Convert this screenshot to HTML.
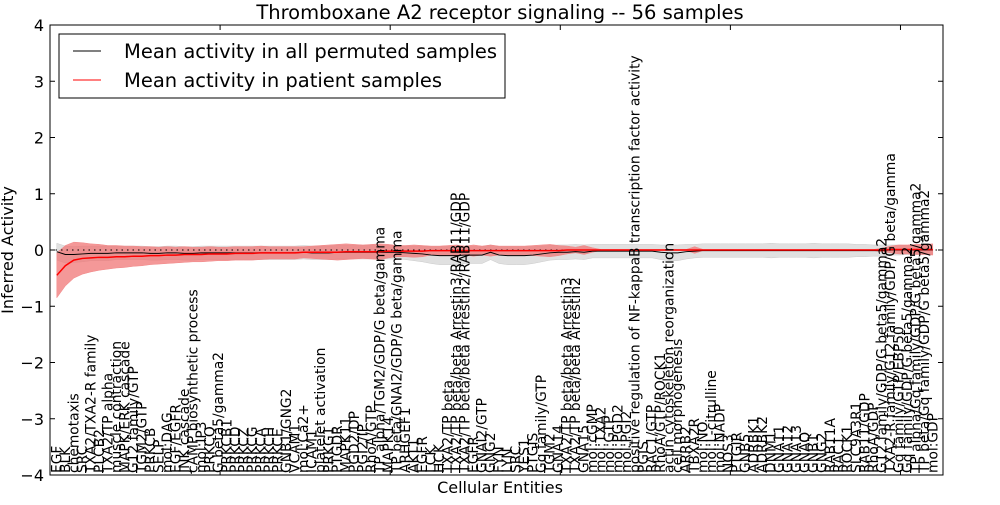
<!DOCTYPE html>
<html><head><meta charset="utf-8"><style>
body{margin:0;background:#fff;}
svg text{font-family:"DejaVu Sans","Liberation Sans",sans-serif;}
</style></head><body>
<svg id="chart" width="1000" height="500" xmlns="http://www.w3.org/2000/svg">
<rect width="1000" height="500" fill="#fff"/>
<text x="500" y="19" font-size="19.5" text-anchor="middle">Thromboxane A2 receptor signaling -- 56 samples</text>
<text transform="translate(13,250) rotate(-90)" font-size="16" text-anchor="middle">Inferred Activity</text>
<text x="500" y="493" font-size="16" text-anchor="middle">Cellular Entities</text>
<g id="plot"></g>
</svg>
<script>
const categories=["EGF","BLK","chemotaxis","SRC","TXA2/TXA2-R family","PLCB2","TXA2/TP alpha","muscle contraction","MAPK/ERK cascade","G12 family/GTP","TGM2/GTP","PRKCB","SELP","mol:DAG","EGF/EGFR","JNK cascade","cAMP biosynthetic process","mol:IP3","PRKCQ","G beta5/gamma2","PRKCB1","PRKCD","PRKCZ","PRKCG","PRKCA","PRKCH","PRKCE","GNB1/GNG2","VCAM1","mol:Ca2+","ICAM1","platelet activation","PRKG1","PTGDR","MAPK11","PGD2/DP","PGI2/IP","RhoA/GTP","TP alpha/TGM2/GDP/G beta/gamma","MAPK14","TP beta/GNAI2/GDP/G beta/gamma","ARHGEF1","AKT1","EGFR","LCK","HCK","TXA2/TP beta","TXA2/TP beta/beta Arrestin3/RAB11/GDP","TXA2/TP beta/beta Arrestin2/RAB11/GDP","EGFR","GNAI2/GTP","GNG2","FYN","LYN","SRC","YES1","PTGIS","Gq family/GTP","TGM2","GNA14","TXA2/TP beta/beta Arrestin3","TXA2/TP beta/beta Arrestin2","GNA15","mol:cGMP","mol:TXA2","mol:GTP","mol:PGD2","mol:PGI2","positive regulation of NF-kappaB transcription factor activity","PGIS","RAC1/GTP","RhoA/GTP/ROCK1","actin cytoskeleton reorganization","cell morphogenesis","ARRB2","TBXA2R","mol:NO","mol:L-citrulline","mol:NADP","NOS3","PTGIR","GNB5","ADRBK1","ADRBK2","DNM1","GNA11","GNA12","GNA13","GNAQ","GNB1","GNG2","RAB11A","RAC1","ROCK1","SLC9A3R1","RAB11/GDP","RhoA/GDP","G12 family/GDP/G beta5/gamma2","TXA2-R family/G12 family/GDP/G beta/gamma","Gq family/GTP/EBP50","Gq family/GDP/G beta5/gamma2","TP alpha/Gq family/GDP/G beta5/gamma2","TP beta/Gq family/GDP/G beta5/gamma2","mol:GDP"];
const patientMean=[-0.45,-0.28,-0.18,-0.15,-0.14,-0.13,-0.13,-0.12,-0.12,-0.11,-0.11,-0.1,-0.1,-0.09,-0.09,-0.08,-0.08,-0.08,-0.07,-0.07,-0.07,-0.06,-0.06,-0.06,-0.05,-0.05,-0.05,-0.05,-0.05,-0.04,-0.04,-0.04,-0.04,-0.04,-0.03,-0.03,-0.03,-0.03,-0.03,-0.02,-0.02,-0.02,-0.02,-0.02,-0.01,-0.01,-0.01,-0.01,-0.01,-0.01,-0.01,-0.01,-0.01,-0.01,-0.01,-0.01,-0.01,-0.01,-0.01,-0.01,0,0,0,0,0,0,0,0,0,0,0,0,0,0,0,0,0,0,0,0,0,0,0,0,0,0,0,0,0,0,0,0,0,0,0,0,0,0,0.01,0.01,0.01,0.01,0.01,0.01];
const patientSd=[0.4,0.36,0.32,0.28,0.25,0.23,0.21,0.2,0.19,0.18,0.17,0.16,0.15,0.15,0.14,0.14,0.13,0.13,0.13,0.12,0.12,0.12,0.12,0.12,0.12,0.11,0.11,0.11,0.11,0.1,0.11,0.12,0.13,0.14,0.14,0.13,0.12,0.13,0.14,0.12,0.1,0.1,0.11,0.1,0.08,0.08,0.09,0.1,0.08,0.1,0.08,0.1,0.08,0.08,0.08,0.08,0.09,0.1,0.11,0.09,0.07,0.05,0.08,0.04,0.01,0.01,0.01,0.01,0.01,0.01,0.01,0.01,0.01,0.01,0.01,0.06,0.01,0.01,0.01,0.01,0.01,0.01,0.01,0.01,0.01,0.01,0.01,0.01,0.01,0.01,0.01,0.01,0.01,0.01,0.01,0.01,0.01,0.03,0.06,0.08,0.08,0.09,0.09,0.1];
const nullMean=[-0.03,-0.08,-0.08,-0.07,-0.06,-0.06,-0.06,-0.05,-0.05,-0.05,-0.05,-0.06,-0.06,-0.05,-0.05,-0.06,-0.06,-0.05,-0.05,-0.05,-0.05,-0.05,-0.05,-0.05,-0.05,-0.05,-0.05,-0.05,-0.05,-0.04,-0.05,-0.05,-0.05,-0.04,-0.04,-0.04,-0.04,-0.04,-0.04,-0.04,-0.04,-0.05,-0.06,-0.07,-0.09,-0.1,-0.1,-0.1,-0.09,-0.09,-0.09,-0.04,-0.09,-0.1,-0.1,-0.1,-0.09,-0.07,-0.05,-0.04,-0.04,-0.03,-0.04,-0.02,-0.02,-0.02,-0.02,-0.02,-0.02,-0.02,-0.02,-0.04,-0.05,-0.05,-0.03,-0.02,-0.01,-0.01,-0.01,-0.01,-0.01,-0.01,-0.01,-0.01,-0.01,-0.01,-0.01,-0.01,-0.01,-0.01,-0.01,-0.01,-0.01,-0.01,-0.01,-0.01,-0.01,-0.01,0,0,0,0,0,0];
const nullSd=[0.15,0.15,0.14,0.14,0.13,0.13,0.13,0.12,0.12,0.12,0.12,0.12,0.12,0.12,0.12,0.12,0.12,0.12,0.12,0.12,0.12,0.12,0.12,0.12,0.12,0.12,0.12,0.12,0.12,0.12,0.12,0.12,0.12,0.12,0.12,0.12,0.12,0.12,0.12,0.12,0.12,0.12,0.13,0.14,0.15,0.16,0.16,0.16,0.15,0.15,0.15,0.13,0.15,0.16,0.16,0.16,0.15,0.14,0.13,0.13,0.13,0.13,0.13,0.12,0.12,0.12,0.12,0.12,0.12,0.12,0.12,0.13,0.14,0.14,0.13,0.12,0.12,0.12,0.12,0.12,0.12,0.12,0.12,0.12,0.13,0.12,0.12,0.12,0.12,0.13,0.12,0.12,0.12,0.12,0.11,0.11,0.1,0.1,0.09,0.09,0.08,0.08,0.08,0.08];
const yTicks=[-4,-3,-2,-1,0,1,2,3,4];
const xTicks=[0,20,40,60,80,100];

const L=50,R=943,T=25,B=475,XMAX=105;
const xs=i=>L+(i+0.8)*(R-L)/XMAX;
const xd=v=>L+v*(R-L)/XMAX;
const ys=v=>B-(v+4)*(B-T)/8;
const g=document.getElementById('plot');
const NS='http://www.w3.org/2000/svg';
function mk(t,a){const e=document.createElementNS(NS,t);for(const k in a)e.setAttribute(k,a[k]);g.appendChild(e);return e;}
function band(m,s){let up=m.map((v,i)=>xs(i)+','+ys(v+s[i]));let dn=m.map((v,i)=>xs(i)+','+ys(v-s[i])).reverse();return up.concat(dn).join(' ');}
function line(m){return m.map((v,i)=>xs(i)+','+ys(v)).join(' ');}

let e=mk('polygon',{points:band(nullMean,nullSd),fill:'#d6d6d6','fill-opacity':'0.75',stroke:'#cccccc','stroke-width':'0.5'});


e=mk('polygon',{points:band(patientMean,patientSd),fill:'#f07070','fill-opacity':'0.72',stroke:'#f28888','stroke-width':'0.5'});


e=mk('line',{x1:L,x2:R,y1:ys(0),y2:ys(0),stroke:'#000','stroke-dasharray':'1.5,4','stroke-width':'1'});


e=mk('polyline',{points:line(nullMean),fill:'none',stroke:'#000','stroke-width':'1'});


e=mk('polyline',{points:line(patientMean),fill:'none',stroke:'#f00','stroke-width':'1.5'});



e=mk('rect',{x:L,y:T,width:R-L,height:B-T,fill:'none',stroke:'#000','stroke-width':'1'});



yTicks.forEach(v=>{
  let t=mk('line',{x1:L,x2:L+5,y1:ys(v),y2:ys(v),stroke:'#000'});
  
  
  t=mk('line',{x1:R-5,x2:R,y1:ys(v),y2:ys(v),stroke:'#000'});
  
  
  t=mk('text',{x:L-6,y:ys(v)+6,'font-size':'16','text-anchor':'end'});
  t.textContent=(v<0?'\u2212'+(-v):v);
  
  
});
xTicks.forEach(v=>{
  let t=mk('line',{x1:xd(v),x2:xd(v),y1:T,y2:T+5,stroke:'#000'});
  
  
  t=mk('line',{x1:xd(v),x2:xd(v),y1:B-5,y2:B,stroke:'#000'});
  
  
});
categories.forEach((c,i)=>{
  const x=xs(i)+4.5;
  let t=mk('text',{transform:'translate('+x+','+(B-2)+') rotate(-90)','font-size':'13.8'});
  t.textContent=c;
  
  
});

let lg=mk('rect',{x:59,y:34,width:446,height:64,fill:'#fff',stroke:'#000','stroke-width':'1'});


[['#000','Mean activity in all permuted samples',51],['#f00','Mean activity in patient samples',80]].forEach(d=>{
  let l=mk('line',{x1:73,x2:101,y1:d[2],y2:d[2],stroke:d[0],'stroke-width':'1'});
  
  
  let t=mk('text',{x:124,y:d[2]+7,'font-size':'19.5'});
  t.textContent=d[1];
  
  
});
</script>
</body></html>
